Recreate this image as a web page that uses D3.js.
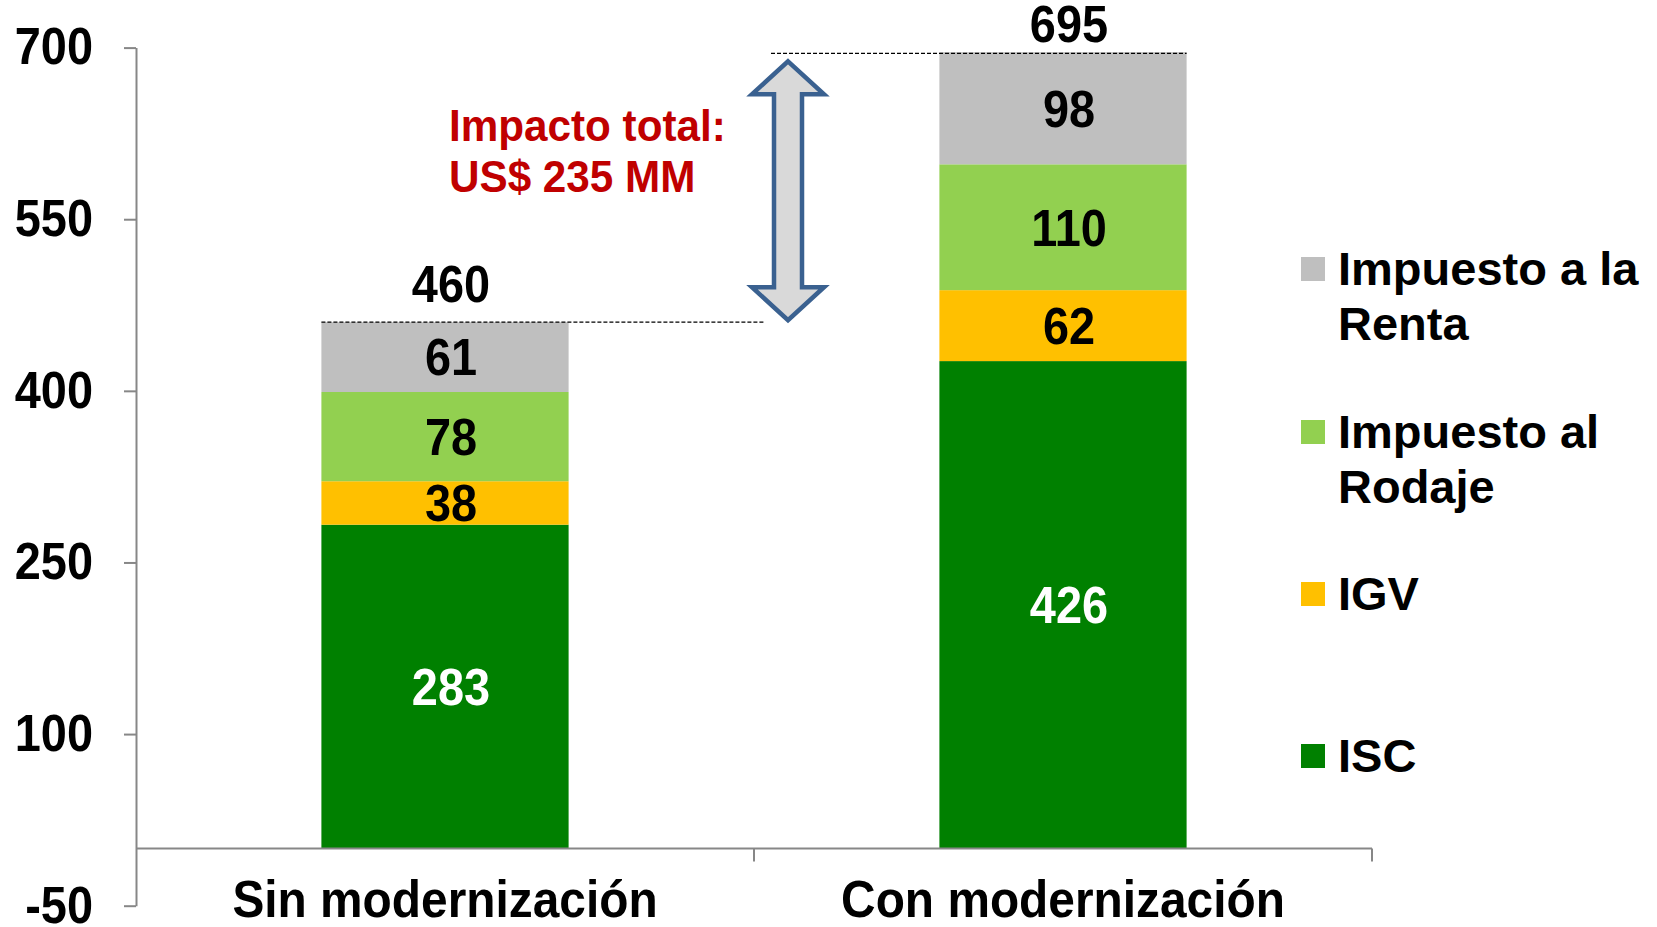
<!DOCTYPE html>
<html>
<head>
<meta charset="utf-8">
<script src="https://cdn.jsdelivr.net/npm/d3@7"></script>
<style>
  html, body { margin: 0; padding: 0; background: #fff; }
  svg { display: block; }
  text { font-family: "Liberation Sans", Arial, sans-serif; font-weight: bold; }
</style>
</head>
<body>
<svg id="chart" width="1657" height="927"></svg>
<script>
// ---- Data ----
const categories = ["Sin modernización", "Con modernización"];
const seriesNames = ["ISC", "IGV", "Impuesto al Rodaje", "Impuesto a la Renta"];
const legendLabels = [["Impuesto a la", "Renta"], ["Impuesto al", "Rodaje"], ["IGV"], ["ISC"]];
const seriesColors = ["#008000", "#FFC000", "#92D050", "#BFBFBF"];
const valuesISC = [283, 426];
const valuesIGV = [38, 62];
const valuesRodaje = [78, 110];
const valuesRenta = [61, 98];
const totals = [460, 695];
const yTicks = [-50, 100, 250, 400, 550, 700];
const impactText = ["Impacto total:", "US$ 235 MM"];

const seriesValues = [valuesISC, valuesIGV, valuesRodaje, valuesRenta];

// ---- Scales ----
const svg = d3.select("#chart");
const y = d3.scaleLinear().domain([-50, 700]).range([905.7, 47.6]);
const x = d3.scaleBand().domain(categories).range([136, 1372]).paddingInner(0.6).paddingOuter(0.3);

const axisColor = "#878787";
const FS = 51;      // condensed chart labels
const SX = 0.92;    // horizontal condensation
const LFS = 47;     // legend font size

// ---- Stack ----
const table = categories.map((c, i) => {
  const row = { cat: c };
  seriesNames.forEach((s, j) => row[s] = seriesValues[j][i]);
  return row;
});
const stacked = d3.stack().keys(seriesNames)(table);

// ---- Bars ----
const layers = svg.append("g").selectAll("g").data(stacked).join("g")
  .attr("fill", (d, i) => seriesColors[i]);
layers.selectAll("rect").data(d => d).join("rect")
  .attr("x", d => x(d.data.cat))
  .attr("width", x.bandwidth())
  .attr("y", d => y(d[1]))
  .attr("height", d => y(d[0]) - y(d[1]));

// segment labels
stacked.forEach((layer, li) => {
  svg.append("g").selectAll("text").data(layer).join("text")
    .attr("transform", d => `translate(${x(d.data.cat) + x.bandwidth() / 2 + 6},${y((d[0] + d[1]) / 2)}) scale(${SX},1)`)
    .attr("dy", "0.36em")
    .attr("text-anchor", "middle")
    .attr("font-size", FS)
    .attr("fill", li === 0 ? "#fff" : "#000")
    .text(d => d[1] - d[0]);
});

// ---- Y axis ----
const yAxis = svg.append("g")
  .attr("transform", `translate(${x.range()[0]},0)`)
  .call(d3.axisLeft(y).tickValues(yTicks).tickSize(12).tickSizeOuter(0).tickPadding(30).tickFormat(d => String(d)));
yAxis.select(".domain").attr("stroke", axisColor).attr("stroke-width", 2);
yAxis.selectAll(".tick line").attr("stroke", axisColor).attr("stroke-width", 2);
yAxis.selectAll(".tick text")
  .attr("x", null)
  .attr("transform", `translate(-43,0) scale(${SX},1)`)
  .attr("font-size", FS).attr("fill", "#000")
  .attr("font-family", "'Liberation Sans', Arial, sans-serif").attr("font-weight", "bold");

// ---- X axis at zero ----
const step = x.step();
const boundaries = [x.range()[0], x.range()[0] + step, x.range()[1]];
const xg = svg.append("g");
xg.append("line")
  .attr("x1", x.range()[0]).attr("x2", x.range()[1])
  .attr("y1", y(0)).attr("y2", y(0))
  .attr("stroke", axisColor).attr("stroke-width", 2);
xg.selectAll("line.tk").data(boundaries.slice(1)).join("line").attr("class", "tk")
  .attr("x1", d => d).attr("x2", d => d)
  .attr("y1", y(0)).attr("y2", y(0) + 13)
  .attr("stroke", axisColor).attr("stroke-width", 2);
xg.selectAll("text").data(categories).join("text")
  .attr("transform", d => `translate(${x(d) + x.bandwidth() / 2},917) scale(${SX},1)`)
  .attr("text-anchor", "middle")
  .attr("font-size", 52)
  .attr("fill", "#000")
  .text(d => d);

// ---- Totals ----
svg.append("g").selectAll("text").data(totals).join("text")
  .attr("transform", (d, i) => `translate(${x(categories[i]) + x.bandwidth() / 2 + 6},${Math.max(y(d) - 20, 42)}) scale(${SX},1)`)
  .attr("text-anchor", "middle")
  .attr("font-size", FS)
  .attr("fill", "#000")
  .text(d => d);

// ---- Arrow and dashed lines ----
const arrowX = 788;
svg.append("line")
  .attr("x1", x(categories[0])).attr("x2", arrowX - 24)
  .attr("y1", y(totals[0])).attr("y2", y(totals[0]))
  .attr("stroke", "#000").attr("stroke-width", 1.3).attr("stroke-dasharray", "4,2");
svg.append("line")
  .attr("x1", arrowX - 17).attr("x2", x(categories[1]) + x.bandwidth())
  .attr("y1", y(totals[1])).attr("y2", y(totals[1]))
  .attr("stroke", "#000").attr("stroke-width", 1.3).attr("stroke-dasharray", "4,2");

const aTop = y(totals[1]) + 8, aBot = y(totals[0]) - 2;
const hw = 36, sw = 14, hh = 33;
const arrowPts = [
  [arrowX, aTop], [arrowX + hw, aTop + hh], [arrowX + sw, aTop + hh],
  [arrowX + sw, aBot - hh], [arrowX + hw, aBot - hh], [arrowX, aBot],
  [arrowX - hw, aBot - hh], [arrowX - sw, aBot - hh], [arrowX - sw, aTop + hh],
  [arrowX - hw, aTop + hh]
];
svg.append("path")
  .attr("d", d3.line()(arrowPts) + "Z")
  .attr("fill", "#D9D9D9")
  .attr("stroke", "#3A6190")
  .attr("stroke-width", 4.5)
  .attr("stroke-linejoin", "miter");

// impact text
svg.append("g").selectAll("text").data(impactText).join("text")
  .attr("transform", (d, i) => `translate(449,${141 + i * 51}) scale(0.96,1)`)
  .attr("font-size", 44)
  .attr("fill", "#C00000")
  .text(d => d);

// ---- Legend ----
const legendColors = ["#BFBFBF", "#92D050", "#FFC000", "#008000"];
const legendBase = [285, 448, 610, 772];
const lg = svg.append("g");
legendLabels.forEach((lines, i) => {
  lg.append("rect")
    .attr("x", 1301).attr("y", legendBase[i] - 28)
    .attr("width", 24).attr("height", 24)
    .attr("fill", legendColors[i]);
  lines.forEach((t, k) => {
    lg.append("text")
      .attr("x", 1338).attr("y", legendBase[i] + k * 55)
      .attr("font-size", LFS).attr("fill", "#000")
      .text(t);
  });
});
</script>
</body>
</html>
